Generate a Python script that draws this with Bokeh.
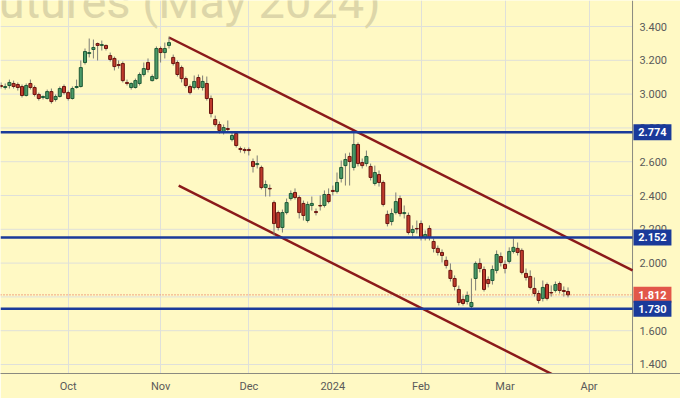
from bokeh.plotting import figure
from bokeh.models import Range1d, FixedTicker, ColumnDataSource
from bokeh.core.properties import value
from bokeh.embed import file_html
from bokeh.resources import INLINE

# ---- data (daily candles, bar index = trading day) ----
opens = [3.051, 3.039, 3.051, 3.063, 3.057, 3.045, 2.992, 3.063, 3.039, 2.998,
         2.980, 2.974, 3.015, 2.968, 2.986, 3.045, 3.009, 2.974, 3.039, 3.045,
         3.187, 3.240, 3.264, 3.299, 3.288, 3.288, 3.228, 3.211, 3.175, 3.181,
         3.069, 3.039, 3.039, 3.063, 3.116, 3.187, 3.080, 3.092, 3.270, 3.246,
         3.288, 3.217, 3.187, 3.157, 3.092, 3.045, 3.039, 3.098, 3.039, 3.063,
         2.974, 2.850, 2.820, 2.779, 2.796, 2.731, 2.767, 2.678, 2.672, 2.672,
         2.601, 2.583, 2.566, 2.447, 2.442, 2.358, 2.299, 2.211, 2.299, 2.382,
         2.418, 2.388, 2.353, 2.252, 2.341, 2.305, 2.341, 2.341, 2.406, 2.430,
         2.424, 2.501, 2.577, 2.631, 2.566, 2.702, 2.595, 2.589, 2.572, 2.471,
         2.524, 2.477, 2.288, 2.246, 2.299, 2.382, 2.293, 2.282, 2.181, 2.205,
         2.234, 2.152, 2.205, 2.128, 2.087, 2.063, 2.016, 1.957, 1.909, 1.844,
         1.785, 1.773, 1.743, 1.909, 1.998, 1.962, 1.903, 1.897, 1.957, 2.039,
         1.992, 2.010, 2.069, 2.087, 2.075, 1.939, 1.921, 1.850, 1.820, 1.791,
         1.873, 1.826, 1.838, 1.879, 1.838, 1.832]
highs = [3.069, 3.063, 3.086, 3.080, 3.069, 3.057, 3.063, 3.086, 3.051, 3.009,
         2.992, 3.027, 3.033, 2.998, 3.045, 3.057, 3.021, 3.045, 3.086, 3.199,
         3.270, 3.329, 3.323, 3.305, 3.317, 3.293, 3.246, 3.222, 3.199, 3.193,
         3.086, 3.069, 3.092, 3.128, 3.187, 3.211, 3.116, 3.282, 3.282, 3.305,
         3.341, 3.234, 3.199, 3.169, 3.104, 3.057, 3.110, 3.116, 3.110, 3.104,
         2.992, 2.873, 2.838, 2.820, 2.844, 2.779, 2.779, 2.690, 2.684, 2.684,
         2.619, 2.637, 2.577, 2.489, 2.465, 2.370, 2.311, 2.317, 2.382, 2.430,
         2.442, 2.400, 2.370, 2.364, 2.394, 2.323, 2.400, 2.430, 2.442, 2.459,
         2.536, 2.607, 2.649, 2.654, 2.782, 2.714, 2.619, 2.666, 2.589, 2.577,
         2.548, 2.489, 2.311, 2.323, 2.418, 2.400, 2.341, 2.299, 2.223, 2.252,
         2.252, 2.193, 2.223, 2.146, 2.104, 2.081, 2.039, 1.998, 1.927, 1.867,
         1.808, 1.832, 1.909, 2.010, 2.028, 1.980, 1.921, 1.986, 2.075, 2.063,
         2.016, 2.093, 2.146, 2.122, 2.087, 1.968, 1.957, 1.915, 1.838, 1.897,
         1.885, 1.868, 1.891, 1.891, 1.862, 1.856]
lows = [3.033, 3.027, 3.033, 3.033, 3.021, 2.980, 2.986, 3.027, 2.986, 2.962,
        2.968, 2.968, 2.944, 2.956, 2.980, 2.998, 2.962, 2.968, 3.033, 3.039,
        3.175, 3.217, 3.211, 3.199, 3.258, 3.258, 3.193, 3.140, 3.151, 3.069,
        3.051, 3.027, 3.033, 3.051, 3.104, 3.128, 3.075, 3.086, 3.187, 3.211,
        3.270, 3.169, 3.104, 3.069, 3.039, 2.998, 3.027, 3.027, 3.021, 2.962,
        2.862, 2.808, 2.767, 2.761, 2.779, 2.720, 2.684, 2.654, 2.649, 2.637,
        2.536, 2.560, 2.436, 2.394, 2.394, 2.163, 2.193, 2.181, 2.288, 2.370,
        2.376, 2.264, 2.252, 2.240, 2.311, 2.282, 2.311, 2.329, 2.353, 2.400,
        2.412, 2.477, 2.459, 2.459, 2.548, 2.572, 2.560, 2.572, 2.489, 2.459,
        2.453, 2.335, 2.217, 2.223, 2.288, 2.276, 2.264, 2.169, 2.158, 2.175,
        2.134, 2.134, 2.134, 2.063, 2.045, 2.004, 1.968, 1.891, 1.838, 1.749,
        1.749, 1.755, 1.733, 1.838, 1.945, 1.832, 1.856, 1.873, 1.939, 1.980,
        1.939, 1.998, 2.057, 2.045, 1.933, 1.897, 1.844, 1.802, 1.761, 1.773,
        1.779, 1.802, 1.826, 1.820, 1.802, 1.797]
closes = [3.045, 3.045, 3.069, 3.045, 3.039, 2.992, 3.051, 3.039, 2.998, 2.974,
          2.986, 3.015, 2.956, 2.986, 3.033, 3.009, 2.974, 3.033, 3.045, 3.157,
          3.252, 3.246, 3.276, 3.288, 3.293, 3.270, 3.205, 3.163, 3.169, 3.080,
          3.063, 3.063, 3.080, 3.116, 3.151, 3.146, 3.104, 3.270, 3.246, 3.270,
          3.305, 3.181, 3.116, 3.092, 3.051, 3.009, 3.075, 3.039, 3.075, 2.974,
          2.885, 2.820, 2.785, 2.802, 2.791, 2.755, 2.696, 2.672, 2.666, 2.666,
          2.572, 2.589, 2.447, 2.465, 2.439, 2.234, 2.211, 2.299, 2.358, 2.412,
          2.388, 2.299, 2.282, 2.347, 2.353, 2.299, 2.338, 2.406, 2.364, 2.424,
          2.477, 2.566, 2.613, 2.601, 2.702, 2.589, 2.577, 2.631, 2.507, 2.536,
          2.477, 2.347, 2.234, 2.293, 2.364, 2.293, 2.299, 2.181, 2.199, 2.202,
          2.152, 2.169, 2.152, 2.087, 2.063, 2.045, 1.986, 1.909, 1.862, 1.767,
          1.761, 1.808, 1.767, 1.998, 1.968, 1.844, 1.879, 1.962, 2.051, 2.004,
          1.968, 2.069, 2.093, 2.063, 1.945, 1.915, 1.856, 1.820, 1.779, 1.856,
          1.791, 1.823, 1.873, 1.838, 1.832, 1.812]

month_ticks = [16, 38, 59, 79, 100, 120, 140]
month_labels = ["Oct", "Nov", "Dec", "2024", "Feb", "Mar", "Apr"]
price_ticks = [1.4, 1.6, 1.8, 2.0, 2.2, 2.4, 2.6, 2.8, 3.0, 3.2, 3.4]
levels = [2.774, 2.152, 1.730]
last_price = 1.812
upper_x = [40, 150.36]
upper_y = [3.335, 1.957]
lower_x = [42.3, 140]
lower_y = [2.459, 1.232]
title_text = "Futures (May 2024)"

# ---- layout constants (bar units / price units) ----
X0, X1 = -0.12, 161.78          # visible bar range (whole width)
Y0, Y1 = 1.3467, 3.554          # visible price range
SCALE_X = 150.36                # where the price scale begins
TICK_LABEL_X = 152.0
BOX_X = 155.1
WM_X, WM_Y = 90.36, 3.548       # watermark anchor (right end, baseline)

BG = "#fff9c4"
UP_FILL, UP_LINE = "#4a9a68", "#1f5a36"
DN_FILL, DN_LINE = "#bf3a2c", "#6a1610"
LEVEL_BLUE = "#1a3a9a"
LAST_RED = "#e2574a"

idx = list(range(len(opens)))
tops = [max(o, c) for o, c in zip(opens, closes)]
bots = [min(o, c) for o, c in zip(opens, closes)]
fills = [UP_FILL if c >= o else DN_FILL for o, c in zip(opens, closes)]
lines = [UP_LINE if c >= o else DN_LINE for o, c in zip(opens, closes)]
src = ColumnDataSource(dict(x=idx, o=opens, h=highs, l=lows, c=closes,
                            top=tops, bot=bots, fill=fills, line=lines))

p = figure(width=680, height=398, output_backend="svg", toolbar_location=None,
           x_range=Range1d(X0, X1), y_range=Range1d(Y0, Y1),
           y_axis_location=None,
           min_border_left=0, min_border_top=0, min_border_right=0,
           min_border_bottom=25)
p.background_fill_color = BG
p.border_fill_color = BG
p.outline_line_color = None

GRID = "#dfe0da"
# vertical grid (month starts)
p.xgrid.ticker = FixedTicker(ticks=month_ticks)
p.xgrid.grid_line_color = GRID
p.ygrid.grid_line_color = None
# horizontal grid only across the price pane
p.segment(x0=[X0] * len(price_ticks), x1=[SCALE_X] * len(price_ticks),
          y0=price_ticks, y1=price_ticks, line_color=GRID, line_width=1)

# bottom time axis
ax = p.xaxis[0]
ax.ticker = FixedTicker(ticks=month_ticks)
ax.major_label_overrides = {t: l for t, l in zip(month_ticks, month_labels)}
ax.axis_line_color = "#8a8a80"
ax.major_tick_line_color = None
ax.minor_tick_line_color = None
ax.major_tick_out = 0
ax.major_tick_in = 0
ax.major_label_text_color = "#5a5a5a"
ax.major_label_text_font = "Roboto"
ax.major_label_text_font_size = "11px"
ax.major_label_standoff = 6

# watermark
p.text(x=[WM_X], y=[WM_Y], text=[title_text], text_align="right",
       text_baseline="alphabetic", text_font=value("Roboto"),
       text_font_size=value("47px"), text_color="#ddd6a9")

# price-scale separator
p.segment(x0=[SCALE_X], x1=[SCALE_X], y0=[Y0], y1=[Y1], line_color="#8a8a80", line_width=1)

# price scale tick labels
p.text(x=[TICK_LABEL_X] * len(price_ticks), y=price_ticks,
       text=[f"{v:.3f}" for v in price_ticks], text_align="left", text_baseline="middle",
       text_font=value("Roboto"), text_font_size=value("11px"), text_color="#5a5a5a")

# last-price dotted line
p.segment(x0=[X0], x1=[SCALE_X], y0=[last_price], y1=[last_price],
          line_color=LAST_RED, line_width=1, line_dash="1 2")

# trend channel
p.line(upper_x, upper_y, line_color="#8b1a1a", line_width=2.5)
p.line(lower_x, lower_y, line_color="#8b1a1a", line_width=2.5)

# candles
p.segment(x0="x", y0="l", x1="x", y1="h", source=src, line_color="#7d7d75", line_width=1)
p.vbar(x="x", top="top", bottom="bot", width=0.72, source=src,
       fill_color="fill", line_color="line", line_width=1)

# horizontal levels
p.segment(x0=[X0] * len(levels), x1=[SCALE_X] * len(levels), y0=levels, y1=levels,
          line_color=LEVEL_BLUE, line_width=2.5)

# price boxes on the price scale
box_vals = [levels[0], levels[1], last_price, levels[2]]
box_cols = [LEVEL_BLUE, LEVEL_BLUE, LAST_RED, LEVEL_BLUE]
p.rect(x=[BOX_X] * 4, y=box_vals, width=38, height=16, width_units="screen",
       height_units="screen", fill_color=box_cols, line_color=None)
p.text(x=[BOX_X] * 4, y=box_vals, text=[f"{v:.3f}" for v in box_vals],
       text_align="center", text_baseline="middle", text_font=value("Roboto"),
       text_font_size=value("11px"), text_font_style="bold", text_color="white")

open("out.html", "w").write(file_html(p, INLINE))
